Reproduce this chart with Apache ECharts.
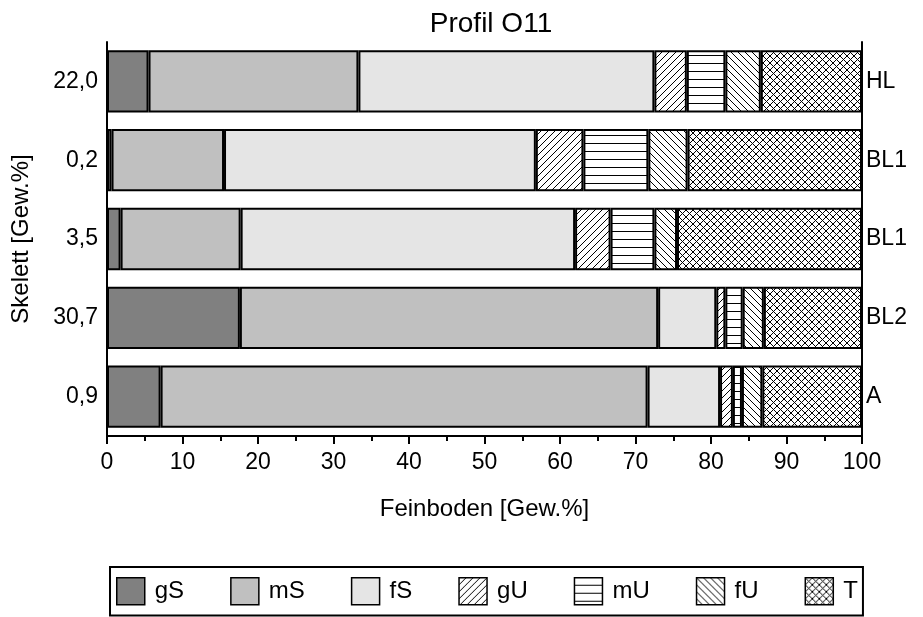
<!DOCTYPE html>
<html>
<head>
<meta charset="utf-8">
<script src="https://cdn.jsdelivr.net/npm/echarts@6/dist/echarts.min.js"></script>
<style>
html,body{margin:0;padding:0;background:#fff;}
#c{width:923px;height:617px;}
</style>
</head>
<body>
<div id="c"></div>
<script>
// Skelett values (left labels), horizons (right labels)
const skelett = ['22,0', '0,2', '3,5', '30,7', '0,9'];
const horizons = ['HL', 'BL1', 'BL1', 'BL2', 'A'];
const fractions = ['gS', 'mS', 'fS', 'gU', 'mU', 'fU', 'T'];
const xTicks = [0, 10, 20, 30, 40, 50, 60, 70, 80, 90, 100];

// Feinboden fractions [Gew.%], one value per row (top to bottom)
const gS = [5.5, 0.6, 1.8, 17.6, 7.1];
const mS = [27.8, 14.9, 15.9, 55.4, 64.5];
const fS = [39.2, 41.3, 44.3, 7.7, 9.6];
const gU = [4.3, 6.3, 4.7, 1.2, 1.7];
const mU = [5.1, 8.6, 5.8, 2.3, 1.2];
const fU = [4.7, 5.2, 3.0, 2.8, 2.7];
const T  = [13.4, 23.1, 24.5, 13.0, 13.2];

const seriesValues = [gS, mS, fS, gU, mU, fU, T];

function makePattern(kind) {
  const s = kind === 'mU' ? 8 : 7;
  const c = document.createElement('canvas');
  c.width = s; c.height = s;
  const g = c.getContext('2d');
  g.fillStyle = '#fff';
  g.fillRect(0, 0, s, s);
  g.fillStyle = '#000';
  for (let x = 0; x < s; x++) {
    if (kind === 'gU' || kind === 'T') g.fillRect(x, s - 1 - x, 1, 1);
    if (kind === 'fU' || kind === 'T') g.fillRect(x, x, 1, 1);
  }
  if (kind === 'mU') g.fillRect(0, s - 1, s, 1);
  return { image: c, repeat: 'repeat' };
}

const fills = {
  gS: '#808080',
  mS: '#c0c0c0',
  fS: '#e5e5e5',
  gU: makePattern('gU'),
  mU: makePattern('mU'),
  fU: makePattern('fU'),
  T: makePattern('T')
};

const FONT = "'Liberation Sans', Arial, sans-serif";

const chart = echarts.init(document.getElementById('c'), null, { renderer: 'canvas' });

const option = {
  animation: false,
  backgroundColor: '#fff',
  title: {
    text: 'Profil O11',
    left: 486,
    textAlign: 'center',
    top: 5,
    textStyle: { fontFamily: FONT, fontSize: 28, fontWeight: 'normal', color: '#000' }
  },
  legend: {
    data: fractions,
    left: 110,
    top: 567,
    width: 780,
    padding: [10, 5, 10, 6],
    itemGap: 46,
    itemWidth: 28,
    itemHeight: 27,
    borderColor: '#000',
    borderWidth: 2,
    icon: 'rect',
    itemStyle: { borderColor: '#000', borderWidth: 1.5 },
    textStyle: { fontFamily: FONT, fontSize: 24, color: '#000', padding: [0, 0, 0, 5] }
  },
  grid: { left: 107, right: 61, top: 42, bottom: 181, containLabel: false },
  xAxis: {
    type: 'value',
    min: 0,
    max: 100,
    interval: 10,
    name: 'Feinboden [Gew.%]',
    nameLocation: 'middle',
    nameGap: 61,
    nameTextStyle: { fontFamily: FONT, fontSize: 24, color: '#000' },
    axisLine: { show: true, lineStyle: { color: '#000', width: 2 } },
    axisTick: { show: true, length: 8, lineStyle: { color: '#000', width: 2 } },
    minorTick: { show: true, splitNumber: 2, length: 5, lineStyle: { color: '#000', width: 2 } },
    splitLine: { show: false },
    axisLabel: {
      fontFamily: FONT, fontSize: 23, color: '#000', margin: 15,
      formatter: function (v) { return xTicks.indexOf(v) >= 0 ? String(v) : ''; }
    }
  },
  yAxis: [
    {
      type: 'category',
      data: skelett,
      inverse: true,
      position: 'left',
      name: 'Skelett [Gew.%]',
      nameLocation: 'middle',
      nameRotate: 90,
      nameGap: 74,
      nameTextStyle: { fontFamily: FONT, fontSize: 24, color: '#000' },
      axisLine: { show: true, lineStyle: { color: '#000', width: 2 } },
      axisTick: { show: false },
      splitLine: { show: false },
      axisLabel: { fontFamily: FONT, fontSize: 23, color: '#000', margin: 9 }
    },
    {
      type: 'category',
      data: skelett,
      inverse: true,
      position: 'right',
      axisLine: { show: true, lineStyle: { color: '#000', width: 2 } },
      axisTick: { show: false },
      splitLine: { show: false },
      axisLabel: {
        fontFamily: FONT, fontSize: 23, color: '#000', margin: 4,
        formatter: function (v, i) { return horizons[i]; }
      }
    }
  ],
  series: fractions.map(function (name, i) {
    return {
      name: name,
      type: 'bar',
      stack: 'total',
      yAxisIndex: 0,
      barCategoryGap: '21%',
      data: seriesValues[i],
      itemStyle: { color: fills[name], borderColor: '#000', borderWidth: 2 },
      emphasis: { disabled: true }
    };
  })
};

chart.setOption(option);
</script>
</body>
</html>
